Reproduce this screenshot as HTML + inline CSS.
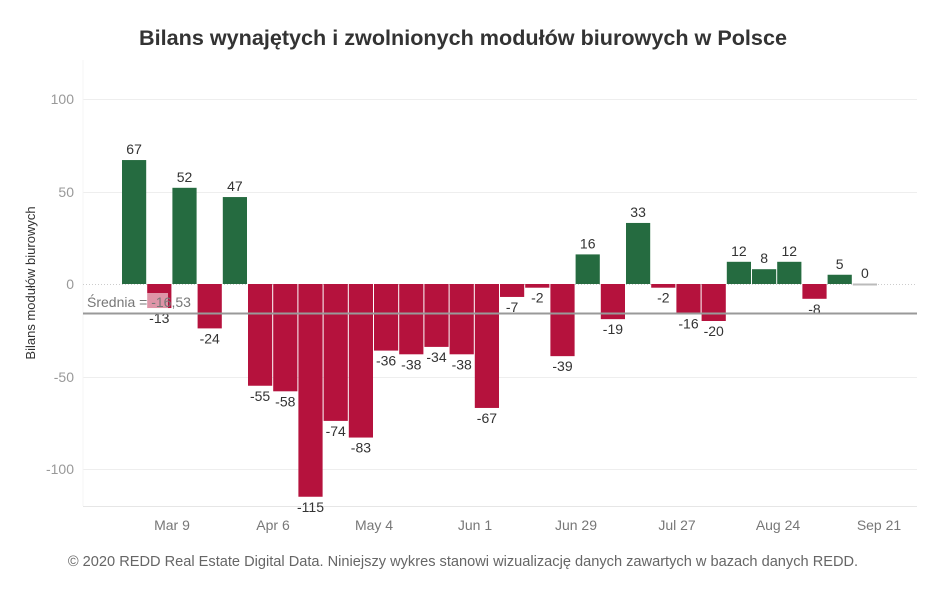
<!DOCTYPE html>
<html><head><meta charset="utf-8"><style>
body{margin:0;background:#fff;}
svg text{font-family:"Liberation Sans",sans-serif;}
</style></head><body>
<svg id="s" width="948" height="593" xmlns="http://www.w3.org/2000/svg">
<text x="463" y="45" text-anchor="middle" font-size="21.6" font-weight="bold" fill="#333">Bilans wynajętych i zwolnionych modułów biurowych w Polsce</text>
<g stroke="#eeeeee" stroke-width="1">
<line x1="83" x2="917" y1="99.5" y2="99.5"/>
<line x1="83" x2="917" y1="192.5" y2="192.5"/>
<line x1="83" x2="917" y1="377.5" y2="377.5"/>
<line x1="83" x2="917" y1="469.5" y2="469.5"/>
<line x1="83" x2="917" y1="506.5" y2="506.5" stroke="#e6e6e6"/>
<line x1="83" x2="83" y1="60" y2="506" stroke="#f4f4f4"/>
</g>
<line x1="83" x2="917" y1="284.5" y2="284.5" stroke="#ccc" stroke-dasharray="1,2"/>
<g font-size="14" fill="#999" text-anchor="end">
<text x="74" y="104">100</text><text x="74" y="197">50</text><text x="74" y="289">0</text><text x="74" y="382">-50</text><text x="74" y="474">-100</text>
</g>
<text transform="translate(35,283) rotate(-90)" text-anchor="middle" font-size="13" fill="#333">Bilans modułów biurowych</text>
<g id="bars"></g>
<g font-size="14" fill="#777" text-anchor="middle">
<text x="172" y="530">Mar 9</text><text x="273" y="530">Apr 6</text><text x="374" y="530">May 4</text><text x="475" y="530">Jun 1</text><text x="576" y="530">Jun 29</text><text x="677" y="530">Jul 27</text><text x="778" y="530">Aug 24</text><text x="879" y="530">Sep 21</text>
</g>
<text x="463" y="566" text-anchor="middle" font-size="14.6" fill="#666">© 2020 REDD Real Estate Digital Data. Niniejszy wykres stanowi wizualizację danych zawartych w bazach danych REDD.</text>
</svg>
<script>
var v=[67,-13,52,-24,47,-55,-58,-115,-74,-83,-36,-38,-34,-38,-67,-7,-2,-39,16,-19,33,-2,-16,-20,12,8,12,-8,5,0];
var s='';var z=284,k=1.85;
v.forEach(function(d,i){var x=122+25.2*i,w=24.2;
if(d>0){s+='<rect x="'+x+'" y="'+(z-d*k)+'" width="'+w+'" height="'+d*k+'" fill="#256b40"/>';
s+='<text x="'+(x+w/2)+'" y="'+(z-d*k-6)+'" text-anchor="middle" font-size="14" fill="#333">'+d+'</text>';}
else if(d<0){s+='<rect x="'+x+'" y="'+z+'" width="'+w+'" height="'+(-d*k)+'" fill="#b5123d"/>';
s+='<text x="'+(x+w/2)+'" y="'+(z-d*k+15)+'" text-anchor="middle" font-size="14" fill="#333">'+d+'</text>';}
else{s+='<line x1="'+x+'" x2="'+(x+w)+'" y1="284.5" y2="284.5" stroke="#bbb" stroke-width="2"/>';
s+='<text x="'+(x+w/2)+'" y="'+(z-6)+'" text-anchor="middle" font-size="14" fill="#333">0</text>';}
});
s+='<line x1="83" x2="917" y1="313.5" y2="313.5" stroke="#999" stroke-width="2"/>';
s+='<rect x="86" y="293" width="82" height="16" fill="#fff" opacity="0.55"/>';
s+='<text x="87" y="307" font-size="14" fill="#777">Średnia = -16,53</text>';
document.getElementById('bars').innerHTML=s;
</script>
</body></html>
